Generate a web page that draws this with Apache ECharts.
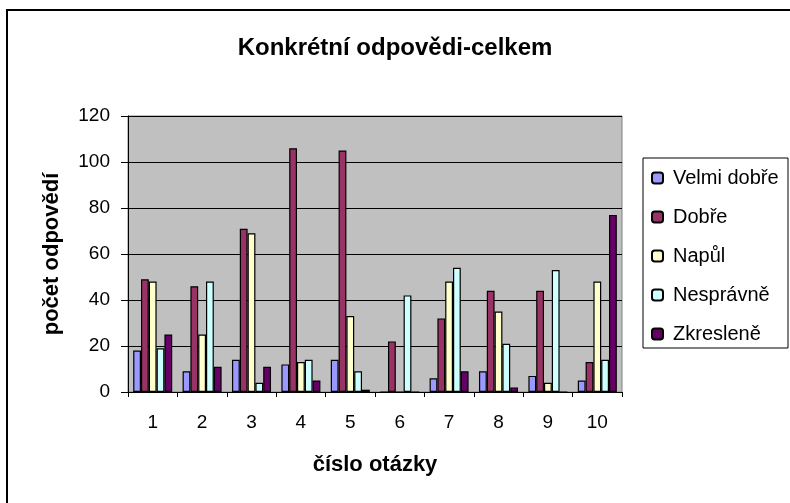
<!DOCTYPE html>
<html>
<head>
<meta charset="utf-8">
<script src="https://cdn.jsdelivr.net/npm/echarts@6/dist/echarts.min.js"></script>
<style>
  html, body { margin: 0; padding: 0; background: #fff; }
  #chart { width: 790px; height: 503px; }
</style>
</head>
<body>
<div id="chart"></div>
<script>
const otazky = ['1', '2', '3', '4', '5', '6', '7', '8', '9', '10']
const velmiDobre = [18, 9, 14, 12, 14, 0, 6, 9, 7, 5]
const dobre = [49, 46, 71, 106, 105, 22, 32, 44, 44, 13]
const napul = [48, 25, 69, 13, 33, 0, 48, 35, 4, 48]
const nespravne = [19, 48, 4, 14, 9, 42, 54, 21, 53, 14]
const zkreslene = [25, 11, 11, 5, 1, 0, 9, 2, 0, 77]

const font = 'Liberation Sans, Arial, sans-serif'

const makeBar = (name, data, color) => ({
  name: name,
  type: 'bar',
  data: data,
  barGap: '0%',
  barCategoryGap: '21%',
  itemStyle: { color: color, borderColor: '#000', borderWidth: 1.2 },
  emphasis: { disabled: true },
  animation: false,
})

const chart = echarts.init(document.getElementById('chart'))

chart.setOption({
  backgroundColor: '#fff',
  textStyle: { fontFamily: font, color: '#000' },
  title: {
    text: 'Konkrétní odpovědi-celkem',
    left: 390,
    textAlign: 'center',
    top: 31,
    textStyle: { fontFamily: font, fontSize: 24, fontWeight: 'bold', color: '#000' },
  },
  graphic: [
    {
      type: 'rect',
      shape: { x: 7, y: 10, width: 800, height: 510 },
      style: { fill: 'none', stroke: '#000', lineWidth: 2 },
      silent: true,
    },
    {
      type: 'rect',
      shape: { x: 643, y: 158, width: 145, height: 190 },
      style: { fill: '#fff', stroke: '#000', lineWidth: 1 },
      z: -1,
      silent: true,
    },
  ],
  legend: {
    orient: 'vertical',
    left: 643,
    top: 158,
    padding: [10, 8, 8, 8],
    itemWidth: 11,
    itemHeight: 11,
    itemGap: 19,
    textStyle: { fontFamily: font, fontSize: 20, color: '#000', lineHeight: 20, padding: [0, 0, 0, 5] },
    data: ['Velmi dobře', 'Dobře', 'Napůl', 'Nesprávně', 'Zkreslené'.replace('é', 'ě')],
  },
  grid: {
    left: 128,
    right: 168,
    top: 116,
    bottom: 111,
    show: true,
    backgroundColor: '#c0c0c0',
    borderColor: '#808080',
    borderWidth: 1,
  },
  xAxis: {
    type: 'category',
    data: otazky,
    name: 'číslo otázky',
    nameLocation: 'middle',
    nameGap: 62,
    nameTextStyle: { fontFamily: font, fontSize: 22, fontWeight: 'bold', color: '#000' },
    axisLine: { lineStyle: { color: '#000', width: 1 } },
    axisTick: { show: true, length: 5, inside: false, lineStyle: { color: '#000' } },
    axisLabel: { fontFamily: font, fontSize: 19, color: '#000', margin: 21 },
  },
  yAxis: {
    type: 'value',
    min: 0,
    max: 120,
    interval: 20,
    name: 'počet odpovědí',
    nameLocation: 'middle',
    nameGap: 65,
    nameTextStyle: { fontFamily: font, fontSize: 22, fontWeight: 'bold', color: '#000' },
    axisLine: { show: true, lineStyle: { color: '#000', width: 1 } },
    axisTick: { show: true, length: 7, lineStyle: { color: '#000' } },
    axisLabel: { fontFamily: font, fontSize: 19, color: '#000', margin: 18 },
    splitLine: { show: true, lineStyle: { color: '#000', width: 1 } },
  },
  series: [
    makeBar('Velmi dobře', velmiDobre, '#9999ff'),
    makeBar('Dobře', dobre, '#993366'),
    makeBar('Napůl', napul, '#ffffcc'),
    makeBar('Nesprávně', nespravne, '#ccffff'),
    makeBar('Zkreslené'.replace('é', 'ě'), zkreslene, '#660066'),
  ],
})
</script>
</body>
</html>
